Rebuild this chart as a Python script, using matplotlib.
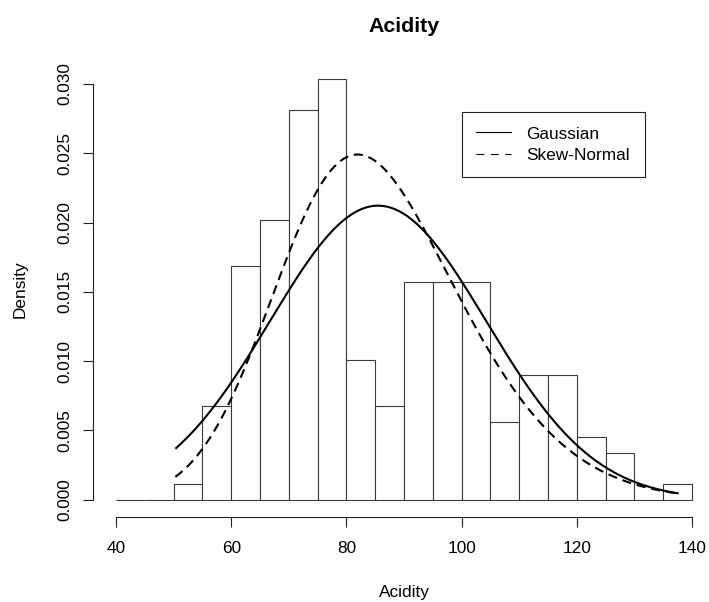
import math
import numpy as np
import matplotlib
matplotlib.use("Agg")
import matplotlib.pyplot as plt
from matplotlib.lines import Line2D

plt.rcParams['font.family'] = ['Liberation Sans', 'DejaVu Sans']

# ---- data ----
bin_left = [40, 45, 50, 55, 60, 65, 70, 75, 80, 85, 90, 95, 100, 105, 110, 115, 120, 125, 130, 135]
bin_width = 5
density = [0.0, 0.0, 0.00112, 0.00674, 0.01685, 0.02022, 0.02809, 0.03034, 0.01011, 0.00674,
           0.01573, 0.01573, 0.01573, 0.00562, 0.00899, 0.00899, 0.00449, 0.00337, 0.0, 0.00112]

# fitted curves (parameters)
curve_range = (50.3, 137.7)
gauss_mean, gauss_sd = 85.5, 18.8
sn_xi, sn_omega, sn_alpha = 69.5, 23.1, 1.8

x_ticks = [40, 60, 80, 100, 120, 140]
y_ticks = [0.000, 0.005, 0.010, 0.015, 0.020, 0.025, 0.030]
title = "Acidity"
xlabel = "Acidity"
ylabel = "Density"
legend_labels = ["Gaussian", "Skew-Normal"]

# ---- figure ----
W, H = 709, 602
fig = plt.figure(figsize=(W / 100, H / 100), dpi=100)
left_px, right_px, top_px, bot_px = 93, 715, 62.5, 516.5
ax = fig.add_axes([left_px / W, 1 - bot_px / H, (right_px - left_px) / W, (bot_px - top_px) / H])

ax.bar(bin_left, density, width=bin_width, align='edge', facecolor='white',
       edgecolor='#3a3a3a', linewidth=0.8)

xs = np.linspace(curve_range[0], curve_range[1], 400)
g = np.exp(-0.5 * ((xs - gauss_mean) / gauss_sd) ** 2) / (gauss_sd * math.sqrt(2 * math.pi))
z = (xs - sn_xi) / sn_omega
phi = np.exp(-0.5 * z ** 2) / math.sqrt(2 * math.pi)
erf = np.vectorize(math.erf)
Phi = 0.5 * (1 + erf(sn_alpha * z / math.sqrt(2)))
sn = 2 / sn_omega * phi * Phi

ax.plot(xs, g, color='black', linewidth=1.5, solid_capstyle='butt')
ax.plot(xs, sn, color='black', linewidth=1.5, linestyle=(0, (4.4, 2.8)), dash_capstyle='butt')

ymax = max(density)
ax.set_xlim(36, 144)
ax.set_ylim(-0.04 * ymax, 1.04 * ymax)

for s in ['top', 'right']:
    ax.spines[s].set_visible(False)
ax.spines['left'].set_bounds(y_ticks[0], y_ticks[-1])
ax.spines['bottom'].set_bounds(x_ticks[0], x_ticks[-1])
for s in ['left', 'bottom']:
    ax.spines[s].set_linewidth(0.8)
    ax.spines[s].set_color('#222222')

ax.set_xticks(x_ticks)
ax.set_xticklabels([str(v) for v in x_ticks])
ax.set_yticks(y_ticks)
ax.set_yticklabels(["%.3f" % v for v in y_ticks], rotation=90, va='center')
ax.tick_params(axis='both', length=7.2, width=0.8, color='#222222', labelsize=12.4)
ax.tick_params(axis='x', pad=10.5)
ax.tick_params(axis='y', pad=8)

fig.text(404 / W, 1 - 32 / H, title, ha='center', va='baseline', fontsize=15.3, fontweight='bold')
fig.text(404 / W, 1 - 597 / H, xlabel, ha='center', va='baseline', fontsize=12.4)
fig.text(25 / W, 1 - 289 / H, ylabel, ha='center', va='baseline', rotation=90,
         rotation_mode='anchor', fontsize=12.4)

handles = [Line2D([], [], color='black', linewidth=0.8),
           Line2D([], [], color='black', linewidth=0.8, linestyle=(0, (7, 6)))]
leg = ax.legend(handles, legend_labels, loc='upper left',
                bbox_to_anchor=((462 - left_px) / (right_px - left_px), 1 - (112 - top_px) / (bot_px - top_px)),
                fontsize=12.4, frameon=True, fancybox=False, edgecolor='#222222', framealpha=1,
                borderaxespad=0, handlelength=2.0, handletextpad=0.9, borderpad=0.84, labelspacing=0.36)
leg.get_frame().set_linewidth(0.8)

fig.savefig("out.png", dpi=100)
